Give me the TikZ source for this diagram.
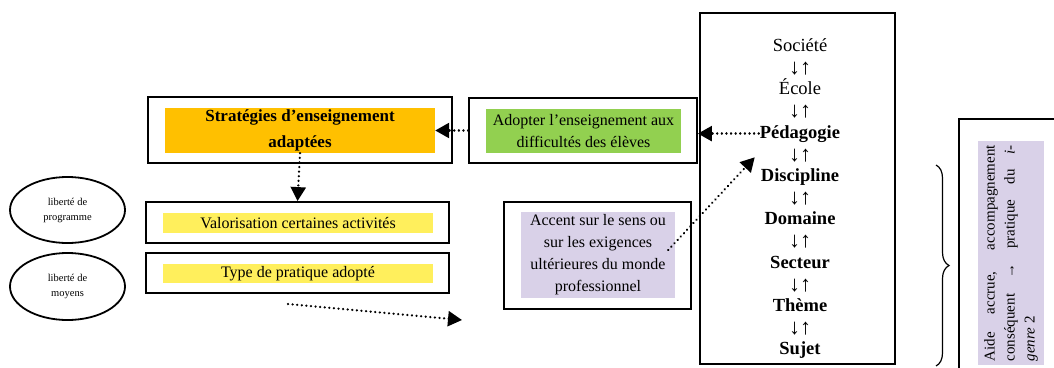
\documentclass[tikz,border=0pt]{standalone}
\usepackage{fontspec}
\setmainfont{Liberation Serif}
\usetikzlibrary{arrows.meta,calc,decorations.pathreplacing,shapes.geometric}
\definecolor{stratorange}{HTML}{FFC000}
\definecolor{adoptgreen}{HTML}{92D050}
\definecolor{valyellow}{HTML}{FFEF5C}
\definecolor{accpurple}{HTML}{D9D1E8}

\begin{document}
\begin{tikzpicture}[x=1pt, y=-1pt,
  obox/.style 2 args = {draw=black, line width=1.8pt, inner sep=0pt,
                  minimum width=#1, minimum height=#2},
  fbox/.style n args = {3}{fill=#1, inner sep=0pt, align=center,
                  minimum width=#2, minimum height=#3,
                  font=\fontsize{16}{22}\selectfont},
  lib/.style   = {draw=black, ellipse, line width=1.8pt, inner sep=0pt,
                  minimum width=115pt, minimum height=66pt, align=center,
                  font=\fontsize{10.5}{15}\selectfont},
  level/.style = {inner sep=1pt, text height=13pt, text depth=4pt,
                  font=\fontsize{18.5}{20}\selectfont#1},
  updown/.style = {inner sep=0pt, font=\fontsize{22}{22}\selectfont},
  darr/.style  = {-{Triangle[length=14pt,width=15pt]}, line width=2.5pt,
                  line cap=round, dash pattern=on 0.01pt off 4.6pt},
]
\useasboundingbox (0,0) rectangle (1054,367);
\clip (0,0) rectangle (1054,367);
\node[lib] (libprog) at (67.5,210) {liberté de\\programme};
\node[lib, minimum height=67pt] (libmoy) at (67.5,286.5) {liberté de\\moyens};
\node[obox={304pt}{66pt}] (strat) at (300,130) {};
\node[fbox={stratorange}{270pt}{45pt}, font=\fontsize{17}{26}\selectfont\bfseries]
    (stratfill) at (300,130.5) {Stratégies d’enseignement\\adaptées};
\node[obox={303pt}{41pt}] (valor) at (297.5,222.5) {};
\node[fbox={valyellow}{270pt}{20pt}] (valorfill) at (298,223)
    {Valorisation certaines activités};
\node[obox={303pt}{40pt}] (typep) at (297.5,273) {};
\node[fbox={valyellow}{270pt}{19pt}] (typepfill) at (298,273.5)
    {Type de pratique adopté};
\node[obox={228pt}{65pt}] (adopt) at (583,130.5) {};
\node[fbox={adoptgreen}{195pt}{44pt}] (adoptfill) at (583.5,131)
    {Adopter l’enseignement aux\\difficultés des élèves};
\node[obox={187pt}{107pt}] (accent) at (597.5,255.5) {};
\node[fbox={accpurple}{154pt}{86pt}] (accfill) at (598,255)
    {Accent sur le sens ou\\sur les exigences\\ultérieures du monde\\professionnel};
\node[obox={195pt}{351pt}] (hier) at (797.5,188.5) {};
\foreach \nm/\txt/\wt [count=\i from 0] in
    {soc/Société/\mdseries, ecole/École/\mdseries, peda/Pédagogie/\bfseries,
     disc/Discipline/\bfseries, dom/Domaine/\bfseries, sect/Secteur/\bfseries,
     theme/Thème/\bfseries, sujet/Sujet/\bfseries}
  \node[level=\wt] (\nm) at (800,{47+43.3*\i}) {\txt};
\foreach \a/\b in {soc/ecole, ecole/peda, peda/disc, disc/dom, dom/sect,
                   sect/theme, theme/sujet}
  \node[updown] at ($(\a)!0.5!(\b)$) {↓↑};
\draw[line width=1.8pt] (1070,119) -- (959,119) -- (959,380);
\node[fill=accpurple, rotate=90, anchor=north east, text width=216pt,
      align=justify, inner xsep=4pt, inner ysep=6pt,
      font=\fontsize{15}{20}\selectfont] (aide) at (978,141)
    {Aide accrue, accompagnement\linebreak conséquent → pratique du
     \textit{i-}\linebreak\textit{genre} 2};
\draw[decorate, decoration={brace, amplitude=13pt}, line width=1.2pt]
    (936,165) -- (936,366);
\coordinate (tstart) at (288,304);
\coordinate (tend) at (462,320);
\draw[darr] (stratfill.south) -- (valor.north);
\draw[darr] (adopt.west) -- (stratfill.east);
\draw[darr] (peda.west) -- (peda.west -| adopt.east);
\draw[darr] ($(accfill.east)+(-7,-5)$) -- ($(peda.south west)+(-4,14)$);
\draw[darr] (tstart) -- (tend);
\end{tikzpicture}
\end{document}
